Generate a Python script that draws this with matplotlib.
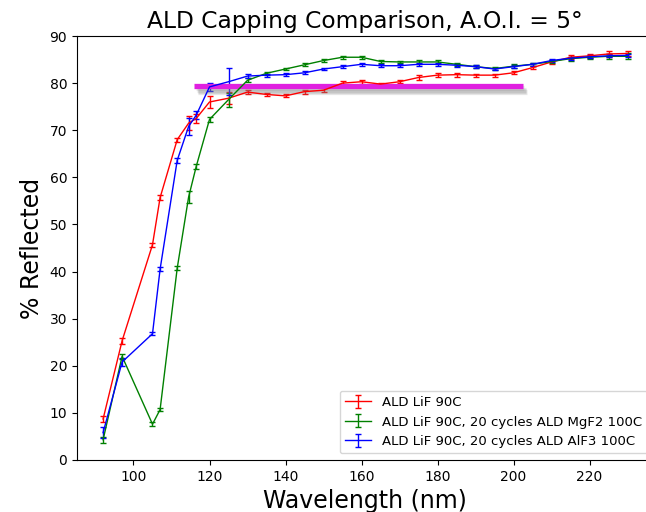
import matplotlib
matplotlib.use("Agg")
import matplotlib.pyplot as plt
import matplotlib.patheffects as pe

# wavelengths (nm)
wl = [92, 97, 105, 107, 111.5, 114.5, 116.5, 120, 125, 130, 135, 140, 145, 150, 155,
      160, 165, 170, 175, 180, 185, 190, 195, 200, 205, 210, 215, 220, 225, 230]

# ALD LiF 90C
lif = [8.7, 25.3, 45.7, 55.7, 68.0, 71.5, 72.5, 76.0, 76.8, 78.1, 77.6, 77.3, 78.2, 78.5, 80.0,
       80.3, 79.8, 80.3, 81.2, 81.7, 81.8, 81.7, 81.7, 82.2, 83.3, 84.5, 85.5, 85.8, 86.2, 86.3]
lif_err = [0.7, 0.6, 0.4, 0.5, 0.4, 1.5, 1.0, 1.2, 1.3, 0.4, 0.3, 0.3, 0.4, 0.4, 0.4,
           0.4, 0.3, 0.3, 0.5, 0.4, 0.4, 0.3, 0.3, 0.3, 0.4, 0.4, 0.4, 0.4, 0.6, 0.6]

# ALD LiF 90C + MgF2
mgf2 = [4.3, 22.0, 7.6, 10.7, 40.7, 55.8, 62.3, 72.3, 76.5, 80.6, 82.1, 83.0, 83.9, 84.8, 85.5,
        85.5, 84.6, 84.5, 84.5, 84.5, 84.0, 83.5, 83.1, 83.6, 84.0, 84.6, 85.2, 85.5, 85.7, 85.7]
mgf2_err = [0.6, 0.6, 0.4, 0.4, 0.4, 1.2, 0.5, 0.5, 1.5, 0.4, 0.3, 0.3, 0.3, 0.4, 0.3,
            0.3, 0.3, 0.3, 0.5, 0.4, 0.3, 0.3, 0.3, 0.4, 0.3, 0.3, 0.4, 0.3, 0.5, 0.6]

# ALD LiF 90C + AlF3
alf3 = [5.8, 20.8, 26.8, 40.5, 63.6, 70.8, 73.2, 79.2, 80.3, 81.5, 81.7, 81.8, 82.2, 83.0, 83.5,
        84.0, 83.7, 83.7, 84.0, 84.0, 83.8, 83.5, 83.0, 83.5, 84.0, 84.8, 85.3, 85.6, 85.8, 85.9]
alf3_err = [1.2, 0.8, 0.3, 0.4, 0.5, 1.8, 0.8, 0.8, 2.9, 0.4, 0.3, 0.3, 0.3, 0.3, 0.3,
            0.3, 0.3, 0.3, 0.3, 0.3, 0.3, 0.3, 0.3, 0.3, 0.3, 0.3, 0.3, 0.3, 0.3, 0.3]

# magenta reference bar
ref_x = [116, 202.5]
ref_y = [79.5, 79.5]

fig = plt.figure(figsize=(6.46, 5.12), dpi=100)
# axes runs a little past the right edge, like the cropped original
ax = fig.add_axes([0.119, 0.1016, 0.893, 0.828])

ax.errorbar(wl, lif, yerr=lif_err, color="r", lw=1, capsize=2.5, label="ALD LiF 90C")
ax.errorbar(wl, mgf2, yerr=mgf2_err, color="g", lw=1, capsize=2.5,
            label="ALD LiF 90C, 20 cycles ALD MgF2 100C")
ax.errorbar(wl, alf3, yerr=alf3_err, color="b", lw=1, capsize=2.5,
            label="ALD LiF 90C, 20 cycles ALD AlF3 100C")

# soft shadow: a few faint offset copies
shadow = [pe.SimpleLineShadow(offset=(dx, dy), shadow_color="gray", alpha=0.18)
          for dx, dy in [(1, -2), (2, -3), (2.5, -4), (3, -5)]]
ax.plot(ref_x, ref_y, color="#e020e0", lw=3.8, solid_capstyle="butt",
        path_effects=shadow + [pe.Normal()])

ax.set_ylim(0, 90)
ax.set_xticks([100, 120, 140, 160, 180, 200, 220])
ax.spines["right"].set_visible(False)
ax.set_title("ALD Capping Comparison, A.O.I. = 5°", fontsize=16.8)
ax.set_xlabel("Wavelength (nm)", fontsize=17)
ax.set_ylabel("% Reflected", fontsize=17)
ax.legend(loc="lower right", fontsize=9.5)

fig.savefig("out.png", dpi=100)
